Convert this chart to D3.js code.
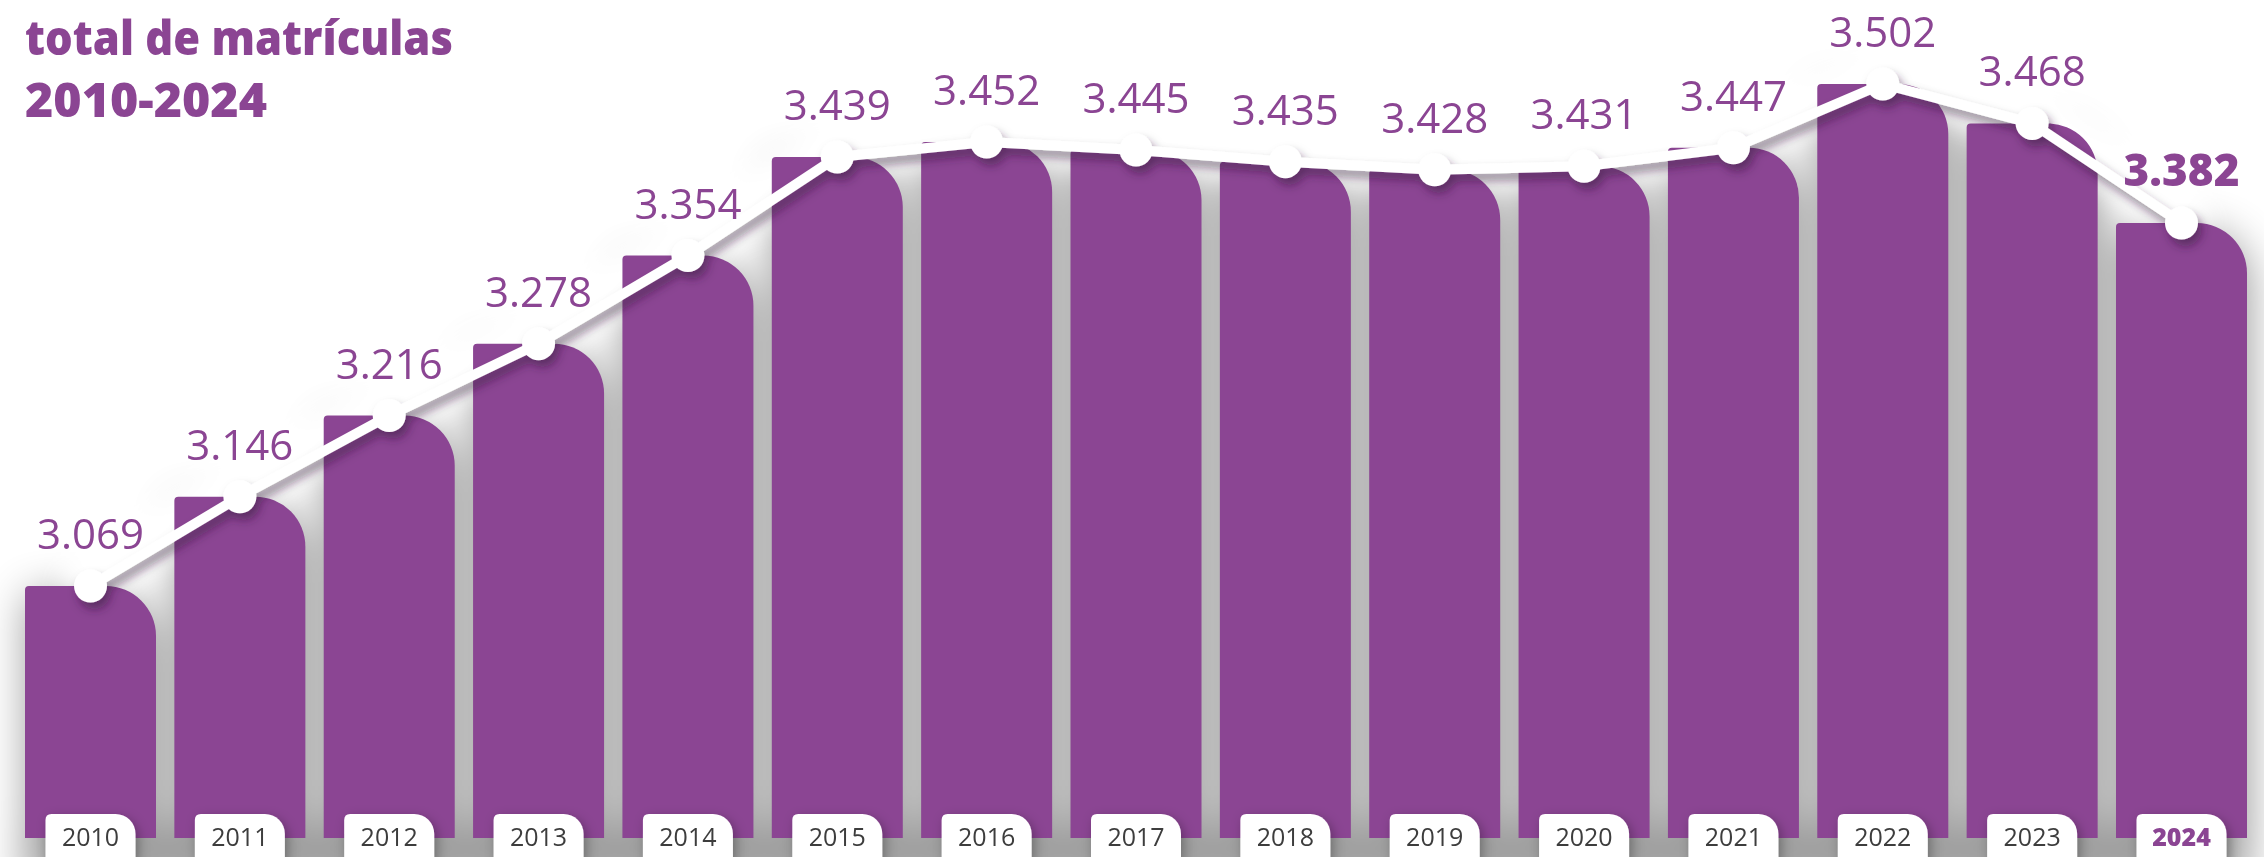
<!DOCTYPE html>
<html><head><meta charset="utf-8">
<script src="https://cdn.jsdelivr.net/npm/d3@7/dist/d3.min.js"></script>
<style>html,body{margin:0;padding:0;background:#fff;overflow:hidden}svg{display:block}</style>
</head><body>
<svg id="chart" width="2264" height="857"></svg>
<script>
const years = ["2010","2011","2012","2013","2014","2015","2016","2017","2018","2019","2020","2021","2022","2023","2024"];
const matriculas = [3069,3146,3216,3278,3354,3439,3452,3445,3435,3428,3431,3447,3502,3468,3382];
const valueLabels = ["3.069","3.146","3.216","3.278","3.354","3.439","3.452","3.445","3.435","3.428","3.431","3.447","3.502","3.468","3.382"];
const titleLines = ["total de matrículas","2010-2024"];

const W = 2264, H = 857;
const purple = "#8b4593";
const svg = d3.select("#chart");
const defs = svg.append("defs");

const barShadow = defs.append("filter").attr("id","barShadow")
  .attr("filterUnits","userSpaceOnUse")
  .attr("x",-100).attr("y",-100).attr("width",W + 200).attr("height",H + 200);
barShadow.append("feGaussianBlur").attr("stdDeviation",22);

const glow = defs.append("filter").attr("id","glow")
  .attr("filterUnits","userSpaceOnUse")
  .attr("x",-100).attr("y",-200).attr("width",W + 200).attr("height",H + 300);
glow.append("feGaussianBlur").attr("stdDeviation",14);

const dotShadow = defs.append("filter").attr("id","dotShadow")
  .attr("x","-20%").attr("y","-50%").attr("width","140%").attr("height","200%");
dotShadow.append("feDropShadow").attr("dx",4).attr("dy",7).attr("stdDeviation",5)
  .attr("flood-color","#2e0a38").attr("flood-opacity",0.5);

const boxShadow = defs.append("filter").attr("id","boxShadow")
  .attr("x","-50%").attr("y","-50%").attr("width","200%").attr("height","200%");
boxShadow.append("feDropShadow").attr("dx",3).attr("dy",4).attr("stdDeviation",6)
  .attr("flood-color","#000").attr("flood-opacity",0.3);

const x = d3.scaleBand().domain(years).range([25, 2247]).paddingInner(0.1229).paddingOuter(0);
const ext = d3.extent(matriculas);
const y = d3.scaleLinear().domain(ext).range([586, 84]);
const baseY = 838;
const bw = x.bandwidth();

function barPath(d, i) {
  const x0 = x(years[i]), x1 = x0 + bw, t = y(d);
  const r1 = 4, r2 = 50;
  return `M${x0},${baseY} L${x0},${t + r1} Q${x0},${t} ${x0 + r1},${t} L${x1 - r2},${t} A${r2},${r2} 0 0 1 ${x1},${t + r2} L${x1},${baseY} Z`;
}

// shadow layer behind bars
const shadowG = svg.append("g").attr("filter","url(#barShadow)").attr("opacity",0.4);
shadowG.selectAll("path").data(matriculas).join("path")
  .attr("d", (d,i) => barPath(d,i))
  .attr("transform","translate(2,8)")
  .attr("fill","#000");
shadowG.append("rect").attr("x", 25).attr("y", baseY - 10).attr("width", 2222).attr("height", 60).attr("fill","#000");

const cx = i => x(years[i]) + bw / 2;
const line = d3.line().x((d,i) => cx(i)).y(d => y(d));

// white glow above line
svg.append("path").datum(matriculas)
  .attr("d", line)
  .attr("transform","translate(0,-18)")
  .attr("fill","none").attr("stroke","#fff").attr("stroke-width",60)
  .attr("stroke-linejoin","round").attr("stroke-linecap","round")
  .attr("filter","url(#glow)");

// bars
svg.append("g").selectAll("path").data(matriculas).join("path")
  .attr("d", (d,i) => barPath(d,i))
  .attr("fill", purple);

// year label boxes
const boxW = 90, boxTop = 814;
function boxPath(i) {
  const c = cx(i), x0 = c - boxW / 2, x1 = c + boxW / 2;
  const r1 = 6, r2 = 20, b = H + 20;
  return `M${x0},${b} L${x0},${boxTop + r1} Q${x0},${boxTop} ${x0 + r1},${boxTop} L${x1 - r2},${boxTop} A${r2},${r2} 0 0 1 ${x1},${boxTop + r2} L${x1},${b} Z`;
}
svg.append("g").attr("filter","url(#boxShadow)")
  .selectAll("path").data(years).join("path")
  .attr("d", (d,i) => boxPath(i))
  .attr("fill","#fff");

svg.append("g").selectAll("text").data(years).join("text")
  .attr("x", (d,i) => cx(i)).attr("y", 846)
  .attr("text-anchor","middle")
  .attr("font-family","'Open Sans', sans-serif")
  .attr("font-size", 25)
  .attr("font-weight", (d,i) => i === years.length - 1 ? 800 : 400)
  .attr("fill", (d,i) => i === years.length - 1 ? purple : "#3d3d3d")
  .text(d => d);

// line + dots
const lg = svg.append("g").attr("filter","url(#dotShadow)");
lg.append("path").datum(matriculas)
  .attr("d", line)
  .attr("fill","none").attr("stroke","#fff").attr("stroke-width",10)
  .attr("stroke-linejoin","round");
lg.selectAll("circle").data(matriculas).join("circle")
  .attr("cx", (d,i) => cx(i)).attr("cy", d => y(d)).attr("r", 16.5)
  .attr("fill","#fff");

// value labels
svg.append("g").selectAll("text").data(matriculas).join("text")
  .attr("x", (d,i) => cx(i))
  .attr("y", d => y(d) - 37)
  .attr("text-anchor","middle")
  .attr("font-family","'Open Sans', sans-serif")
  .attr("font-size", (d,i) => i === matriculas.length - 1 ? 44 : 42)
  .attr("font-weight", (d,i) => i === matriculas.length - 1 ? 800 : 400)
  .attr("fill", purple)
  .text((d,i) => valueLabels[i]);

// title
const titleWidths = [428, 242];
svg.append("g").selectAll("text").data(titleLines).join("text")
  .attr("x", 25).attr("y", (d,i) => 55 + i * 62)
  .attr("font-family","'Open Sans', sans-serif")
  .attr("font-size", 47).attr("font-weight", 800)
  .attr("fill", purple)
  .attr("textLength", (d,i) => titleWidths[i])
  .attr("lengthAdjust","spacingAndGlyphs")
  .text(d => d);
</script>
</body></html>
